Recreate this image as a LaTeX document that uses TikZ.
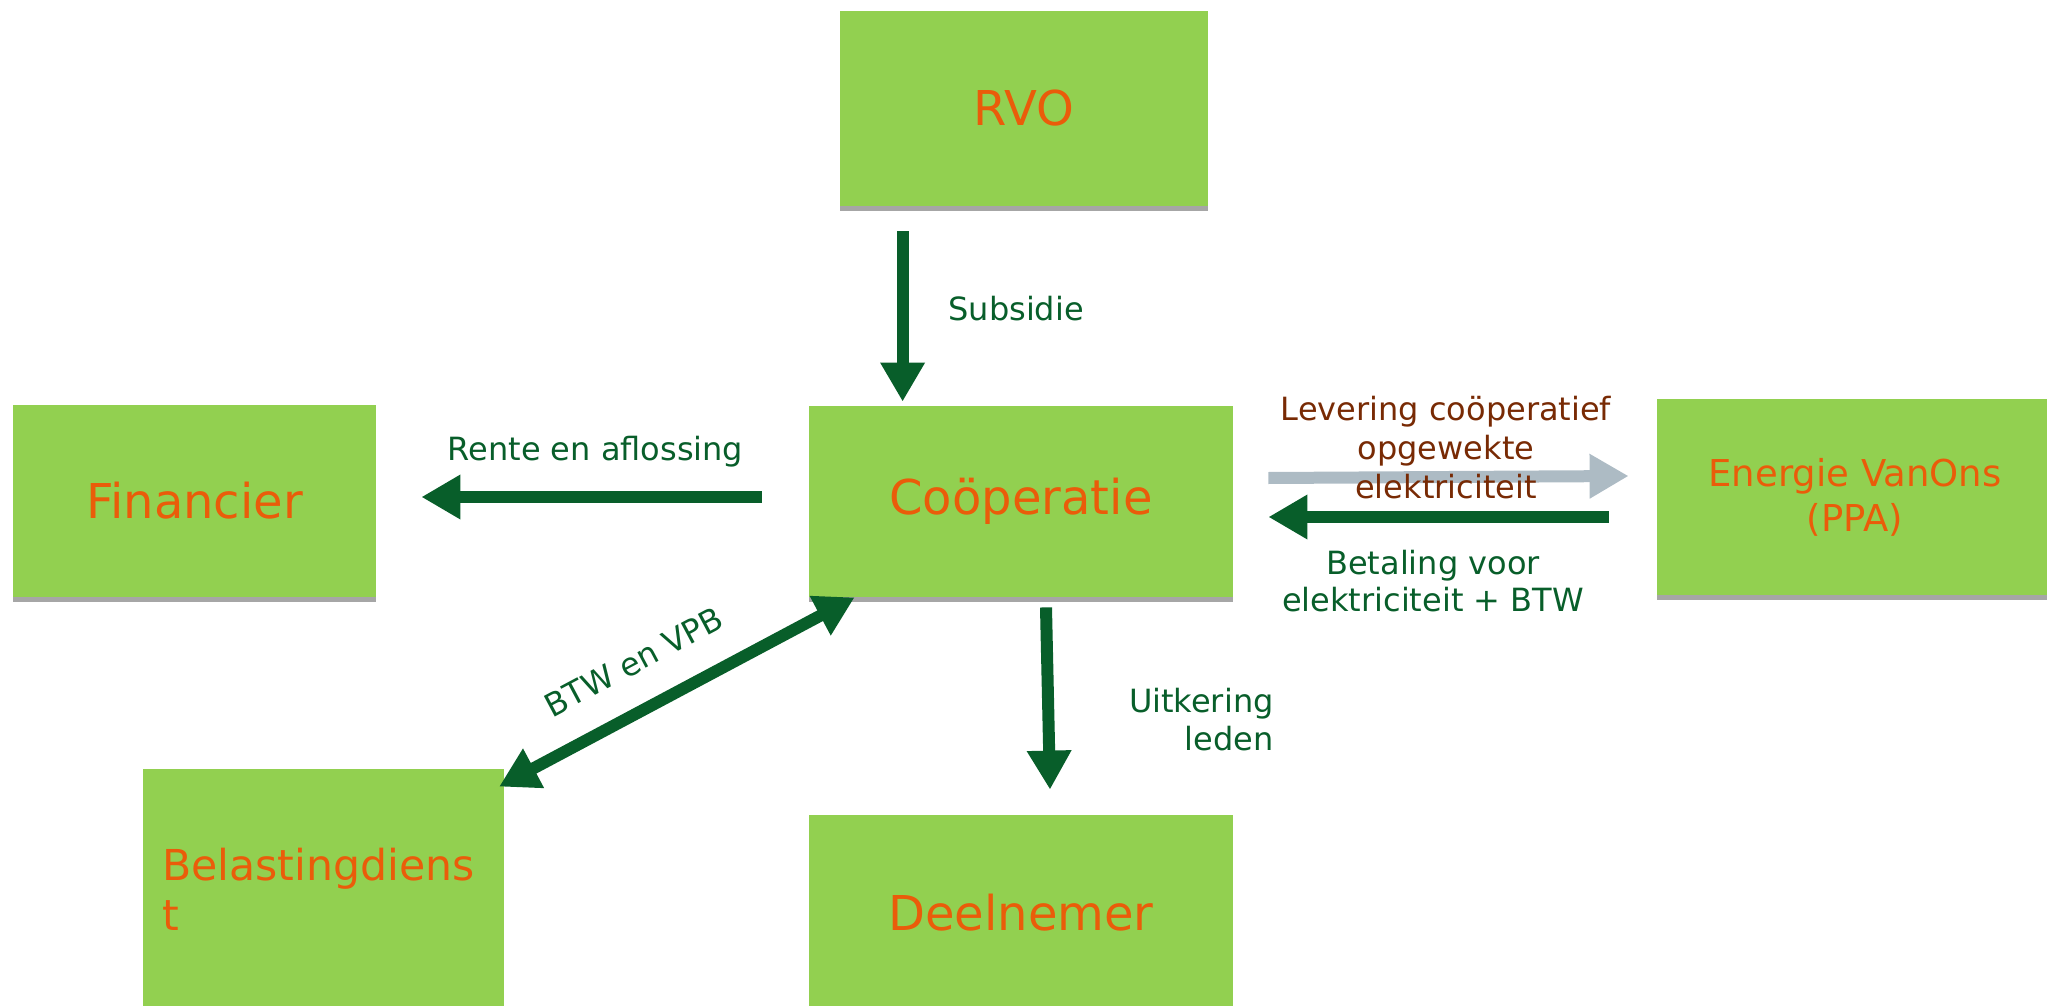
\documentclass[tikz,border=0pt]{standalone}
\usepackage{fontspec}
\setmainfont{DejaVu Sans}
\usetikzlibrary{arrows.meta,calc,shadows}

\definecolor{boxgreen}{RGB}{146,208,80}
\definecolor{labelorange}{RGB}{234,92,10}
\definecolor{flowgreen}{RGB}{8,94,42}
\definecolor{flowgrey}{RGB}{173,187,196}
\definecolor{flowbrown}{RGB}{120,42,4}
\definecolor{shadowgrey}{RGB}{166,166,166}

\tikzset{
  box/.style={rectangle, fill=boxgreen, inner sep=0pt, text=labelorange,
    font=\fontsize{24}{28}\selectfont,
    drop shadow={shadow xshift=0pt, shadow yshift=-2.5pt, fill=shadowgrey, opacity=1}},
  flow/.style={line width=6pt, draw=flowgreen, -{Triangle[length=19.5pt,width=21pt]}},
  flowlabel/.style={inner sep=0pt, text=flowgreen, font=\fontsize{16}{19}\selectfont}
}

\begin{document}
\begin{tikzpicture}[x=0.5pt,y=-0.5pt]
\useasboundingbox (0,0) rectangle (2047,1006);

% Boxes
\node[box, minimum width=184pt, minimum height=97.5pt] (rvo) at (1024,108.5) {RVO};
\node[box, minimum width=212pt, minimum height=95.5pt] (coop) at (1021,501.5) {Coöperatie};
\node[box, minimum width=181.5pt, minimum height=96pt] (fin) at (194.5,501) {Financier};
\node[box, minimum width=198pt, minimum height=98pt, align=center,
  font=\fontsize{18.5}{22.5}\selectfont] (energie) at (1855,497) {Energie VanOns\\(PPA)};
\node[box, minimum height=120pt, text width=161.25pt, inner xsep=9.5pt, align=left,
  font=\fontsize{21.3}{25}\selectfont] (bel) at (323.5,889) {Belastingdiens\\t};
\node[box, minimum width=212pt, minimum height=98pt] (deel) at (1021,913) {Deelnemer};

% Flows
\draw[flow] ($(rvo.south west)+(63,25)$) -- ($(coop.north west)+(94,-4)$);
\draw[flow] ($(coop.west)+(-47,-4.5)$) -- ($(fin.east)+(45,-4)$);
\draw[flow, draw=flowgrey] ($(coop.east)+(35,-23.5)$) -- ($(energie.west)+(-28,-21)$);
\draw[flow] ($(energie.west)+(-48,20)$) -- ($(coop.east)+(35,15.5)$);
\draw[flow] ($(coop.south)+(25,10)$) -- ($(deel.north)+(29,-25)$);
\draw[flow, {Triangle[length=19.5pt,width=21pt]}-{Triangle[length=19.5pt,width=21pt]}]
  ($(bel.north east)+(-5,18)$) -- ($(coop.south west)+(46,0)$);

% Text Node
\node[flowlabel, anchor=base west] (subsidie) at (948,320) {Subsidie};
% Text Node
\node[flowlabel, anchor=base] (rente) at (595.5,460) {Rente en aflossing};
% Text Node
\node[flowlabel, anchor=north, align=center, text=flowbrown,
  font=\fontsize{16}{19.5}\selectfont] (levering) at (1446,396) {Levering coöperatief\\opgewekte\\elektriciteit};
% Text Node
\node[flowlabel, anchor=north, align=center,
  font=\fontsize{16}{18.5}\selectfont] (betaling) at (1433,550) {Betaling voor\\elektriciteit + BTW};
% Text Node
\node[flowlabel, anchor=north east, align=right] (uitkering) at (1274,688) {Uitkering\\leden};
% Text Node
\node[flowlabel, rotate=28] (btw) at (634,662) {BTW en VPB};

\end{tikzpicture}
\end{document}
